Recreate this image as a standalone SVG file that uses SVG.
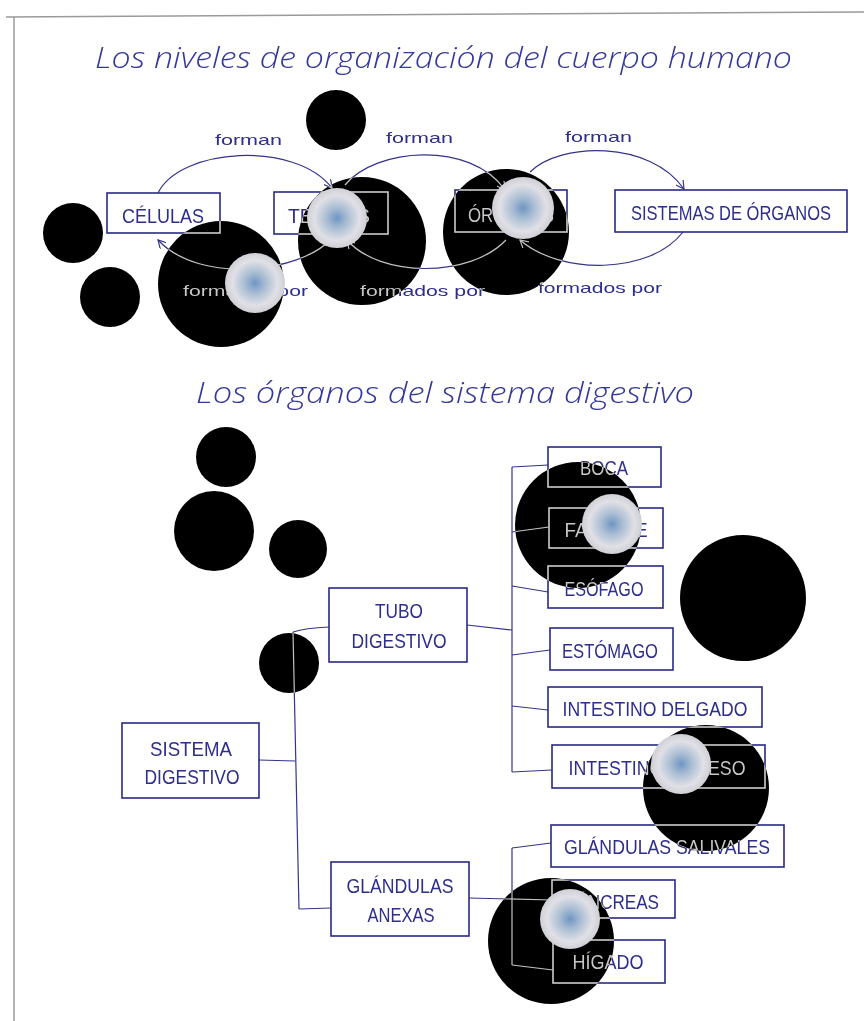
<svg xmlns="http://www.w3.org/2000/svg" width="864" height="1021" viewBox="0 0 864 1021">
<style>
.box{fill:none;stroke:#2a2a86;stroke-width:1.6}
.lbl{font-family:"Liberation Sans Narrow","Liberation Sans",sans-serif;font-size:21px;fill:#2e2e8c;text-anchor:middle}
.sm{font-family:"Liberation Sans",sans-serif;font-size:15px;fill:#2e2e8c}
.title{font-family:"Open Sans","Liberation Sans",sans-serif;font-style:italic;font-weight:300;font-size:29px;fill:#34389a}
.con{fill:none;stroke:#34348c;stroke-width:1.2}
.blk{fill:#ffffff}
.gry{fill:#808080}
.blur{fill:url(#bg)}
</style>
<defs>
<marker id="ar" viewBox="0 0 10 10" refX="9" refY="5" markerWidth="9" markerHeight="9" orient="auto" markerUnits="userSpaceOnUse">
<path d="M0,0 L9,5 L0,10" fill="none" stroke="#34348c" stroke-width="1.3"/>
</marker>
<radialGradient id="bg" cx="0.5" cy="0.5" r="0.5">
<stop offset="0" stop-color="#6f95c3"/>
<stop offset="0.35" stop-color="#a9bdd3"/>
<stop offset="0.75" stop-color="#e0e0e6"/>
<stop offset="1" stop-color="#cfcfd6"/>
</radialGradient>
</defs>
<rect x="0" y="0" width="864" height="1021" fill="#ffffff"/>
<g id="frame" fill="none" stroke="#9a9a9a" stroke-width="1.5">
<path d="M6,17 L864,12"/>
<path d="M14,17 L14,1021"/>
</g>
<text class="title" x="95" y="68" textLength="697" lengthAdjust="spacingAndGlyphs">Los niveles de organización del cuerpo humano</text>
<text class="title" x="196" y="403" textLength="498" lengthAdjust="spacingAndGlyphs">Los órganos del sistema digestivo</text>
<g id="connectors">
<path class="con" marker-end="url(#ar)" d="M158,193 C180,148 295,140 332,188"/>
<path class="con" marker-end="url(#ar)" d="M345,185 C375,148 470,140 505,190"/>
<path class="con" marker-end="url(#ar)" d="M530,172 C560,142 650,140 684,189"/>
<path class="con" marker-end="url(#ar)" d="M330,240 C300,272 200,285 158,240"/>
<path class="con" marker-end="url(#ar)" d="M506,240 C470,278 380,278 347,240"/>
<path class="con" marker-end="url(#ar)" d="M683,232 C650,275 560,275 520,240"/>
<path class="con" d="M259,760 L295,761"/>
<path class="con" d="M293,632 L299,909"/>
<path class="con" d="M293,632 Q305,628 329,627"/>
<path class="con" d="M299,909 L331,908"/>
<path class="con" d="M467,625 L512,630"/>
<path class="con" d="M512,467 L512,772"/>
<path class="con" d="M512,467 L548,465"/>
<path class="con" d="M512,532 L549,527"/>
<path class="con" d="M512,586 L548,592"/>
<path class="con" d="M512,655 L550,650"/>
<path class="con" d="M512,706 L548,710"/>
<path class="con" d="M512,772 L552,770"/>
<path class="con" d="M469,898 L552,900"/>
<path class="con" d="M512,848 L512,965"/>
<path class="con" d="M512,848 L551,843"/>
<path class="con" d="M512,965 L553,970"/>
<text class="sm" x="215" y="145" textLength="67" lengthAdjust="spacingAndGlyphs">forman</text>
<text class="sm" x="386" y="143" textLength="67" lengthAdjust="spacingAndGlyphs">forman</text>
<text class="sm" x="565" y="142" textLength="67" lengthAdjust="spacingAndGlyphs">forman</text>
<text class="sm" x="183" y="296" textLength="125" lengthAdjust="spacingAndGlyphs">formados por</text>
<text class="sm" x="360" y="296" textLength="125" lengthAdjust="spacingAndGlyphs">formados por</text>
<text class="sm" x="538" y="293" textLength="124" lengthAdjust="spacingAndGlyphs">formados por</text>
</g>
<g id="n-celulas"><rect class="box" x="107" y="193" width="113" height="40"/><text class="lbl" x="163" y="223" textLength="82" lengthAdjust="spacingAndGlyphs">CÉLULAS</text></g>
<g id="n-tejidos"><rect class="box" x="274" y="192" width="114" height="42"/><text class="lbl" x="329" y="223" textLength="82" lengthAdjust="spacingAndGlyphs">TEJIDOS</text></g>
<g id="n-organos"><rect class="box" x="455" y="190" width="112" height="42"/><text class="lbl" x="511" y="222" textLength="86" lengthAdjust="spacingAndGlyphs">ÓRGANOS</text></g>
<g id="n-sistemas"><rect class="box" x="615" y="190" width="232" height="42"/><text class="lbl" x="731" y="220" font-size="19" textLength="200" lengthAdjust="spacingAndGlyphs">SISTEMAS DE ÓRGANOS</text></g>
<g id="n-sistema-digestivo"><rect class="box" x="122" y="723" width="137" height="75"/><text class="lbl" x="191" y="756" textLength="82" lengthAdjust="spacingAndGlyphs">SISTEMA</text><text class="lbl" x="192" y="784" textLength="95" lengthAdjust="spacingAndGlyphs">DIGESTIVO</text></g>
<g id="n-tubo"><rect class="box" x="329" y="588" width="138" height="74"/><text class="lbl" x="399" y="618" textLength="48" lengthAdjust="spacingAndGlyphs">TUBO</text><text class="lbl" x="399" y="648" textLength="95" lengthAdjust="spacingAndGlyphs">DIGESTIVO</text></g>
<g id="n-glandulas-anexas"><rect class="box" x="331" y="862" width="138" height="74"/><text class="lbl" x="400" y="893" textLength="107" lengthAdjust="spacingAndGlyphs">GLÁNDULAS</text><text class="lbl" x="401" y="922" textLength="67" lengthAdjust="spacingAndGlyphs">ANEXAS</text></g>
<g id="n-boca"><rect class="box" x="548" y="447" width="113" height="40"/><text class="lbl" x="604" y="475" textLength="48" lengthAdjust="spacingAndGlyphs">BOCA</text></g>
<g id="n-faringe"><rect class="box" x="549" y="508" width="114" height="40"/><text class="lbl" x="606" y="537" textLength="83" lengthAdjust="spacingAndGlyphs">FARINGE</text></g>
<g id="n-esofago"><rect class="box" x="548" y="566" width="115" height="42"/><text class="lbl" x="604" y="596" textLength="79" lengthAdjust="spacingAndGlyphs">ESÓFAGO</text></g>
<g id="n-estomago"><rect class="box" x="550" y="628" width="123" height="42"/><text class="lbl" x="610" y="658" textLength="96" lengthAdjust="spacingAndGlyphs">ESTÓMAGO</text></g>
<g id="n-intestino-delgado"><rect class="box" x="548" y="687" width="214" height="40"/><text class="lbl" x="655" y="716" textLength="185" lengthAdjust="spacingAndGlyphs">INTESTINO DELGADO</text></g>
<g id="n-intestino-grueso"><rect class="box" x="552" y="745" width="213" height="43"/><text class="lbl" x="657" y="775" textLength="177" lengthAdjust="spacingAndGlyphs">INTESTINO GRUESO</text></g>
<g id="n-glandulas-salivales"><rect class="box" x="551" y="825" width="233" height="42"/><text class="lbl" x="667" y="854" textLength="206" lengthAdjust="spacingAndGlyphs">GLÁNDULAS SALIVALES</text></g>
<g id="n-pancreas"><rect class="box" x="552" y="880" width="123" height="38"/><text class="lbl" x="612" y="909" textLength="94" lengthAdjust="spacingAndGlyphs">PÁNCREAS</text></g>
<g id="n-higado"><rect class="box" x="553" y="940" width="112" height="43"/><text class="lbl" x="608" y="969" textLength="71" lengthAdjust="spacingAndGlyphs">HÍGADO</text></g>
<g id="dots-invert" style="mix-blend-mode:difference">
<circle class="blk" cx="336" cy="120" r="30"/><circle class="blk" cx="73" cy="233" r="30"/><circle class="blk" cx="110" cy="297" r="30"/><circle class="blk" cx="221" cy="284" r="63"/><circle class="blk" cx="362" cy="241" r="64"/><circle class="blk" cx="506" cy="232" r="63"/>
<circle class="blk" cx="226" cy="457" r="30"/><circle class="blk" cx="214" cy="531" r="40"/><circle class="blk" cx="298" cy="549" r="29"/><circle class="blk" cx="289" cy="663" r="30"/><circle class="blk" cx="578" cy="525" r="63"/><circle class="blk" cx="743" cy="598" r="63"/><circle class="blk" cx="706" cy="788" r="63"/><circle class="blk" cx="551" cy="941" r="63"/>
</g>
<g id="dots-grey" style="mix-blend-mode:saturation">
<circle class="gry" cx="336" cy="120" r="30"/><circle class="gry" cx="73" cy="233" r="30"/><circle class="gry" cx="110" cy="297" r="30"/><circle class="gry" cx="221" cy="284" r="63"/><circle class="gry" cx="362" cy="241" r="64"/><circle class="gry" cx="506" cy="232" r="63"/>
<circle class="gry" cx="226" cy="457" r="30"/><circle class="gry" cx="214" cy="531" r="40"/><circle class="gry" cx="298" cy="549" r="29"/><circle class="gry" cx="289" cy="663" r="30"/><circle class="gry" cx="578" cy="525" r="63"/><circle class="gry" cx="743" cy="598" r="63"/><circle class="gry" cx="706" cy="788" r="63"/><circle class="gry" cx="551" cy="941" r="63"/>
</g>
<g id="blurs">
<circle class="blur" cx="337" cy="218" r="30"/><circle class="blur" cx="255" cy="283" r="30"/><circle class="blur" cx="523" cy="208" r="31"/>
<circle class="blur" cx="612" cy="524" r="30"/><circle class="blur" cx="681" cy="764" r="30"/><circle class="blur" cx="570" cy="919" r="30"/>
</g>
</svg>
